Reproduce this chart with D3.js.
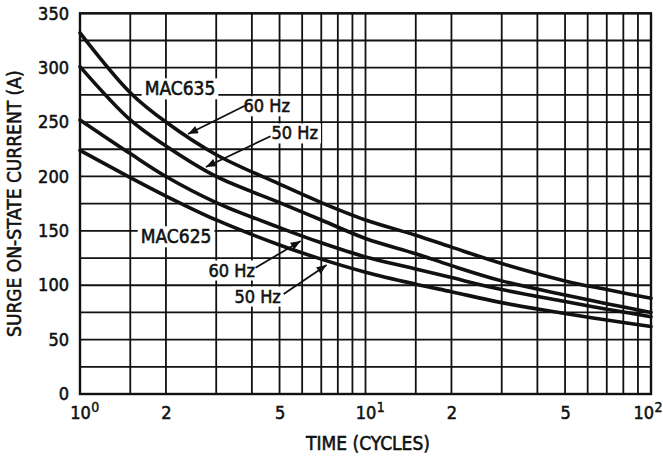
<!DOCTYPE html>
<html>
<head>
<meta charset="utf-8">
<script src="https://cdn.jsdelivr.net/npm/d3@7/dist/d3.min.js"></script>
<style>
  html, body { margin: 0; padding: 0; background: #fff; }
  svg { display: block; }
  text { font-family: "Liberation Sans Narrow", "Arial Narrow", "DejaVu Sans Condensed", sans-serif; fill: #111; }
</style>
</head>
<body>
<svg id="chart" width="663" height="458"></svg>
<script>
// ---------- data ----------
const cycles    = [1, 1.5, 2, 3, 5, 7, 10, 15, 20, 30, 50, 70, 100];
const mac635_60 = [332, 277, 250, 220, 193, 176, 160, 146, 135, 120, 104, 96, 88];
const mac635_50 = [301, 252, 228, 200, 176, 160, 143, 129, 118, 104, 91, 83, 75];
const mac625_60 = [252, 221, 200, 176, 153, 139, 126, 115, 107, 96, 85, 78, 71];
const mac625_50 = [224, 199, 182, 160, 137, 124, 112, 101, 94, 84, 74, 68, 62];

const xGridValues = [1, 1.5, 2, 3, 4, 5, 6, 7, 8, 9, 10, 15, 20, 30, 40, 50, 60, 70, 80, 90, 100];
const yGridValues = [0, 25, 50, 75, 100, 125, 150, 175, 200, 225, 250, 275, 300, 325, 350];
const yTickValues = [0, 50, 100, 150, 200, 250, 300, 350];
const xTickValues = [1, 2, 5, 10, 20, 50, 100];
const xTickBase   = ["10", "2", "5", "10", "2", "5", "10"];
const xTickExp    = ["0", "", "", "1", "", "", "2"];

const xTitle = "TIME (CYCLES)";
const yTitle = "SURGE ON-STATE CURRENT (A)";

// labels: [text, cycles, amps]
const boxLabels  = [["MAC635", 2.24, 281], ["MAC625", 2.17, 145]];
const hzLabels   = [["60 Hz", 4.51, 265], ["50 Hz", 5.65, 240], ["60 Hz", 3.40, 114], ["50 Hz", 4.19, 90]];
// leader arrows: [fromCycles, fromAmps, tipCycles, tipAmps]
const arrows = [[3.78, 265, 2.39, 239], [4.65, 237, 2.76, 208.7], [4.12, 116, 5.93, 140.7], [5.17, 92, 7.31, 118.6]];

// ---------- layout ----------
const W = 663;
const svg = d3.select("#chart");
const pL = 80, pR = 651, pT = 13.3, pB = 394;
const x = d3.scaleLog().domain([1, 100]).range([pL, pR]);
const y = d3.scaleLinear().domain([0, 350]).range([pB, pT]);
const ink = "#111";
const bold = 0.55;

// grid
const gGrid = svg.append("g");
gGrid.selectAll("line.v").data(xGridValues).join("line").attr("class", "v")
  .attr("x1", d => x(d)).attr("x2", d => x(d))
  .attr("y1", pT).attr("y2", pB)
  .attr("stroke", ink).attr("stroke-width", 1.8);
gGrid.selectAll("line.h").data(yGridValues).join("line").attr("class", "h")
  .attr("x1", pL).attr("x2", pR)
  .attr("y1", d => y(d)).attr("y2", d => y(d))
  .attr("stroke", ink).attr("stroke-width", 1.8);
gGrid.append("rect").attr("x", pL).attr("y", pT)
  .attr("width", pR - pL).attr("height", pB - pT)
  .attr("fill", "none").attr("stroke", ink).attr("stroke-width", 2.4);

// axes
const yAxis = svg.append("g").attr("transform", `translate(${pL},0)`)
  .call(d3.axisLeft(y).tickValues(yTickValues).tickSize(0).tickPadding(11).tickFormat(d3.format("d")));
yAxis.select(".domain").remove();
yAxis.selectAll("text").style("font-size", "18px")
  .attr("fill", ink).attr("stroke", ink).attr("stroke-width", bold);

const xAxis = svg.append("g").attr("transform", `translate(0,${pB})`)
  .call(d3.axisBottom(x).tickValues(xTickValues).tickSize(0).tickPadding(12).tickFormat((d, i) => xTickBase[i]));
xAxis.select(".domain").remove();
xAxis.selectAll("text").style("font-size", "18px")
  .attr("fill", ink).attr("stroke", ink).attr("stroke-width", bold);
svg.selectAll(".tick line").remove();
svg.selectAll("g").attr("font-family", null).attr("font-size", null);
xAxis.selectAll(".tick").each(function (d, i) {
  if (!xTickExp[i]) return;
  const t = d3.select(this).select("text");
  const w = t.node().getComputedTextLength();
  const sup = d3.select(this).append("text")
    .attr("x", w / 2 + 0.5).attr("y", 18).attr("text-anchor", "start")
    .style("font-size", "14px").attr("fill", ink).attr("stroke", ink).attr("stroke-width", 0.45)
    .text(xTickExp[i]);
  // keep the superscript inside the picture
  const sw = sup.node().getComputedTextLength();
  const over = x(d) + w / 2 + 0.5 + sw - (W - 1);
  if (over > 0) {
    t.attr("x", -over);
    sup.attr("x", w / 2 + 0.5 - over);
  }
});

// titles
svg.append("text").attr("x", 368).attr("y", 450).attr("text-anchor", "middle")
  .style("font-size", "19px").attr("stroke", ink).attr("stroke-width", bold).text(xTitle);
svg.append("text").attr("transform", `translate(21,${(pT + pB) / 2}) rotate(-90)`)
  .attr("text-anchor", "middle").style("font-size", "19px")
  .attr("stroke", ink).attr("stroke-width", bold).text(yTitle);

// label backgrounds + labels
const gBg = svg.append("g");
const gCurves = svg.append("g");
const gLab = svg.append("g");

function addLabel(t, cx, cy, size) {
  const el = gLab.append("text").attr("x", x(cx)).attr("y", y(cy))
    .attr("text-anchor", "middle").attr("dominant-baseline", "central")
    .style("font-size", size + "px").attr("stroke", ink).attr("stroke-width", bold).text(t);
  const b = el.node().getBBox();
  gBg.append("rect").attr("x", b.x - 3).attr("y", b.y + 1)
    .attr("width", b.width + 6).attr("height", b.height - 1).attr("fill", "#fff");
}
boxLabels.forEach(d => addLabel(d[0], d[1], d[2], 19));
hzLabels.forEach(d => addLabel(d[0], d[1], d[2], 18));

// curves
const series = [mac635_60, mac635_50, mac625_60, mac625_50];
const line = d3.line().x((d, i) => x(cycles[i])).y(d => y(d)).curve(d3.curveCatmullRom.alpha(0.5));
gCurves.selectAll("path").data(series).join("path")
  .attr("d", line).attr("fill", "none").attr("stroke", ink)
  .attr("stroke-width", 3.6).attr("stroke-linecap", "round");

// arrows
svg.append("defs").append("marker").attr("id", "ah")
  .attr("viewBox", "0 0 10 8").attr("refX", 10).attr("refY", 4)
  .attr("markerWidth", 11).attr("markerHeight", 8).attr("markerUnits", "userSpaceOnUse")
  .attr("orient", "auto")
  .append("path").attr("d", "M0,0 L10,4 L0,8 Z").attr("fill", ink);
svg.append("g").selectAll("line").data(arrows).join("line")
  .attr("x1", d => x(d[0])).attr("y1", d => y(d[1]))
  .attr("x2", d => x(d[2])).attr("y2", d => y(d[3]))
  .attr("stroke", ink).attr("stroke-width", 1.8).attr("marker-end", "url(#ah)");
</script>
</body>
</html>
